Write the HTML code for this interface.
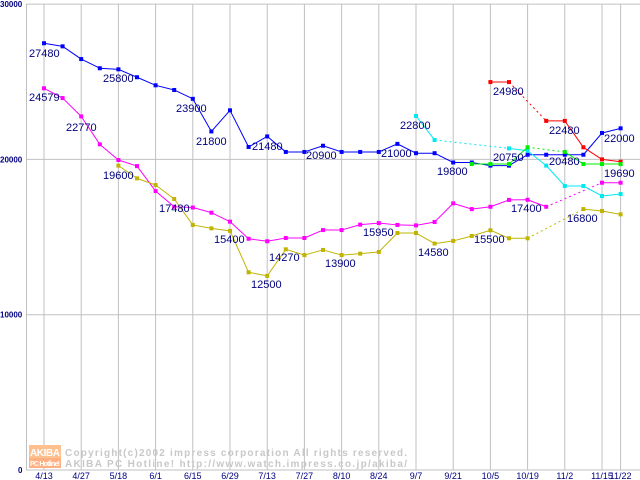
<!DOCTYPE html>
<html><head><meta charset="utf-8"><style>
html,body{margin:0;padding:0;background:#fff;}
svg{display:block;}
text{font-family:"Liberation Sans",sans-serif;}
</style></head><body>
<svg id="chart" width="640" height="480" viewBox="0 0 640 480" xmlns="http://www.w3.org/2000/svg">
<g id="grid"></g>
<g id="axes"></g>
<g id="watermark">
  <rect x="29" y="445" width="32" height="13" fill="#ffc090"/>
  <rect x="29" y="458" width="32" height="10" fill="#ffb080"/>
  <text x="30" y="456" font-size="10" font-weight="bold" fill="#fff" textLength="30">AKIBA</text>
  <text x="30" y="466" font-size="7" font-weight="bold" fill="#fff" textLength="30">PC Hotline!</text>
  <text x="65" y="456" font-size="10" font-family="Liberation Mono, monospace" font-weight="bold" fill="#c8c8c8" textLength="342">Copyright(c)2002 impress corporation All rights reserved.</text>
  <text x="65" y="467" font-size="10" font-family="Liberation Mono, monospace" font-weight="bold" fill="#c8c8c8" textLength="342">AKIBA PC Hotline!  http://www.watch.impress.co.jp/akiba/</text>
</g>
<g id="series"></g>
<g id="labels" font-size="11" fill="#000080">
  <text x="29" y="57">27480</text><text x="103" y="82">25800</text><text x="29" y="101">24579</text>
  <text x="176" y="112">23900</text><text x="66" y="131">22770</text><text x="196" y="145">21800</text>
  <text x="252" y="150">21480</text><text x="103" y="179">19600</text><text x="159" y="212">17480</text>
  <text x="214" y="243">15400</text><text x="269" y="261">14270</text><text x="251" y="288">12500</text>
  <text x="325" y="267">13900</text><text x="306" y="159">20900</text><text x="381" y="157">21000</text>
  <text x="400" y="129">22800</text><text x="437" y="175">19800</text><text x="493" y="161">20750</text>
  <text x="493" y="95">24980</text><text x="549" y="134">22480</text><text x="549" y="165">20480</text>
  <text x="604" y="142">22000</text><text x="604" y="177">19690</text><text x="511" y="212">17400</text>
  <text x="567" y="222">16800</text><text x="363" y="236">15950</text><text x="474" y="243">15500</text>
  <text x="418" y="256">14580</text>
</g>
</svg>
<script>
const xLabels = ["4/13","4/27","5/18","6/1","6/15","6/29","7/13","7/27","8/10","8/24","9/7","9/21","10/5","10/19","11/2","11/15","11/22"];
const xLabelIdx = [0,2,4,6,8,10,12,14,16,18,20,22,24,26,28,30,31];
const yTicks = [0,10000,20000,30000];
const N = null;
const blue = [27480,27280,26460,25870,25800,25290,24770,24470,23900,21800,23160,20800,21480,20480,20480,20880,20480,20480,20480,21000,20400,20400,19800,19800,19600,19600,20300,20300,20300,20300,21700,22000];
const magenta = [24579,23950,22770,20970,19960,19570,17960,16950,16900,16570,15990,14890,14730,14940,14940,15450,15450,15800,15900,15780,15750,15970,17170,16800,16950,17390,17400,16950,N,N,18500,18500];
const olive = [N,N,N,N,19600,18780,18350,17450,15780,15560,15400,12730,12500,14210,13840,14170,13840,13930,14040,15260,15260,14580,14750,15070,15440,14920,14920,N,N,16800,16680,16460];
const red = [N,N,N,N,N,N,N,N,N,N,N,N,N,N,N,N,N,N,N,N,N,N,N,N,24980,24980,N,22480,22480,20780,20000,19850];
const cyan = [N,N,N,N,N,N,N,N,N,N,N,N,N,N,N,N,N,N,N,N,22800,21250,N,N,N,20710,20560,19600,18290,18290,17640,17770];
const green = [N,N,N,N,N,N,N,N,N,N,N,N,N,N,N,N,N,N,N,N,N,N,N,19700,19700,19700,20780,N,20480,19700,19700,19700];

const NS="http://www.w3.org/2000/svg";
const X0=44, DX=18.6, Y0=470, KY=0.01553;
const xs=i=>X0+i*DX;
const ys=v=>Y0-v*KY;
function mk(tag,attrs,parent){const e=document.createElementNS(NS,tag);for(const k in attrs)e.setAttribute(k,attrs[k]);parent.appendChild(e);return e;}
const grid=document.getElementById('grid'), axes=document.getElementById('axes'), sg=document.getElementById('series');
yTicks.forEach(t=>{
  const l=mk('line',{x1:26,x2:640,y1:ys(t),y2:ys(t),stroke:'#c0c0c0','stroke-width':1},grid);
  
  
  const tx=mk('text',{x:t===0?18:0,y:ys(t)+3,'font-size':8,'font-weight':'bold',fill:'#000080'},axes);
  tx.textContent=String(t);
  
  
});
xLabelIdx.forEach((idx,k)=>{
  const l=mk('line',{x1:xs(idx),x2:xs(idx),y1:4,y2:Y0,stroke:'#c0c0c0','stroke-width':1},grid);
  
  
  const tx=mk('text',{x:xs(idx),y:479,'font-size':9,'text-anchor':'middle',fill:'#000080'},axes);
  tx.textContent=xLabels[k];
  
  
});
const ax=mk('line',{x1:26.5,x2:26.5,y1:4,y2:Y0,stroke:'#c0c0c0'},axes);


const seriesList=[[blue,'#0000ff','blue'],[magenta,'#ff00ff','magenta'],[olive,'#c0b400','olive'],[red,'#ff0000','red'],[cyan,'#00e8f0','cyan'],[green,'#00ee00','green']];
seriesList.forEach(([data,col,nm])=>{
  const g=mk('g',{},sg);
  
  
  let prev=-1;
  data.forEach((v,i)=>{
    if(v===null)return;
    if(prev>=0){
      const seg=mk('line',{x1:xs(prev),y1:ys(data[prev]),x2:xs(i),y2:ys(v),stroke:col,'stroke-width':1},g);
      if(i-prev>1)seg.setAttribute('stroke-dasharray','2,3');
      
      
    }
    prev=i;
  });
  data.forEach((v,i)=>{
    if(v===null)return;
    const r=mk('rect',{x:xs(i)-2,y:ys(v)-2,width:4,height:4,fill:col},g);
    
    
  });
});
</script>
</body></html>
